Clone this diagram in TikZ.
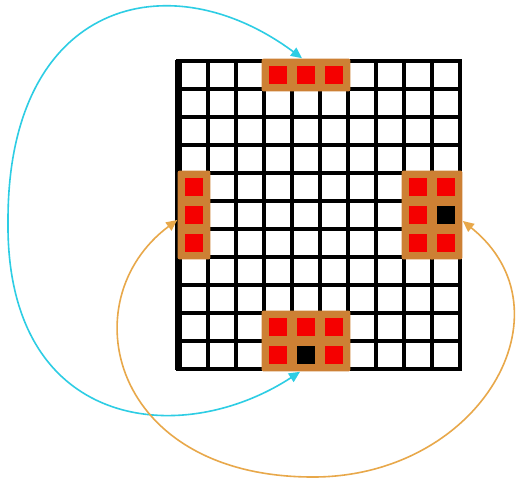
\documentclass[tikz,border=0pt]{standalone}
\usetikzlibrary{arrows.meta,fit}
\definecolor{blkorange}{RGB}{205,128,52}
\definecolor{cellred}{RGB}{245,0,0}
\definecolor{linkcyan}{RGB}{45,205,228}
\definecolor{linkamber}{RGB}{232,168,74}

\begin{document}
\begin{tikzpicture}[
  x=0.5pt, y=-0.5pt,
  gridline/.style={black, line width=1.6pt, line cap=rect},
  blk/.style={fill=blkorange, draw=none, rounded corners=1pt, inner sep=1.2pt},
  redcell/.style={fill=cellred},
  blackcell/.style={fill=black},
  link/.style={{Triangle[length=5.5pt,width=5pt]}-{Triangle[length=5.5pt,width=5pt]}, line width=0.8pt}
]
  \path[use as bounding box, fill=white] (0,0) rectangle (517,483);

  % Grid and blocks
  \begin{scope}[shift={(180,61)}, x=14pt, y=-14pt]
    \foreach \c in {1,...,10} \draw[gridline] (\c,0) -- (\c,11);
    \foreach \r in {0,...,11} \draw[gridline] (-0.07,\r) -- (10,\r);
    \draw[black, line width=3.5pt] (-0.07,-0.03) -- (-0.07,11.03);

    \node[blk, fit={(3,0) (6,1)}] (topblk) {};
    \node[blk, fit={(0,4) (1,7)}] (leftblk) {};
    \node[blk, fit={(8,4) (9,7)}] (rightA) {};
    \node[blk, fit={(9,4) (10,7)}] (rightB) {};
    \node[blk, fit={(3,9) (6,11)}] (botblk) {};

    \foreach \c/\r in {3/0,4/0,5/0, 0/4,0/5,0/6, 8/4,8/5,8/6,9/4,9/6, 3/9,4/9,5/9,3/10,5/10}
      \fill[redcell] (\c+0.19,\r+0.19) rectangle ++(0.62,0.62);
    \foreach \c/\r in {9/5, 4/10}
      \fill[blackcell] (\c+0.19,\r+0.19) rectangle ++(0.62,0.62);
  \end{scope}

  % Paths
  \draw[link, linkcyan] ([xshift=-3pt]botblk.south) .. controls (180,450) and (5,430) .. (8,220)
    .. controls (8,0) and (170,-40) .. ([xshift=-2pt]topblk.north);
  \draw[link, linkamber] ([yshift=-2.5pt]leftblk.west) .. controls (70,300) and (110,477) .. (313,477)
    .. controls (480,477) and (575,311) .. ([yshift=-3pt]rightB.east);
\end{tikzpicture}
\end{document}
